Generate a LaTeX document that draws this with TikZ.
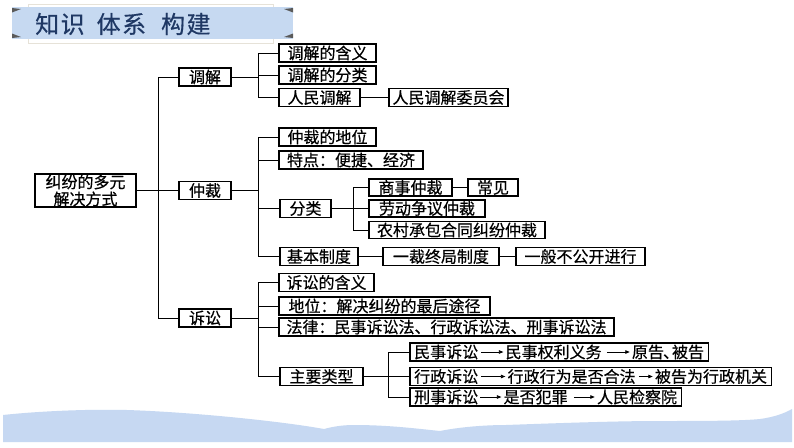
\documentclass[tikz,border=0pt]{standalone}
\usepackage{fontspec}
\setmainfont{Noto Sans CJK SC}[FakeBold=0.5]
\newfontfamily\titlefont{Noto Sans CJK SC}[LetterSpace=6,FakeBold=0.4]
\usetikzlibrary{arrows.meta,fit}
\definecolor{bannerblue}{HTML}{C6D9F1}
\definecolor{titlenavy}{HTML}{1F3864}
\definecolor{bandblue}{HTML}{C6D8F2}
\definecolor{wedgegray}{HTML}{5A5A5A}
\definecolor{framegray}{HTML}{E6E2D8}
\begin{document}
\begin{tikzpicture}[x=1pt,y=-1pt,
  box/.style={draw, line width=1.2pt, inner sep=0pt, minimum height=18pt, font=\fontsize{16}{17}\selectfont},
  txt/.style={inner sep=0pt, font=\fontsize{16}{17}\selectfont},
  rowbox/.style={draw, line width=1.2pt, inner xsep=4pt, inner ysep=0pt, minimum height=18pt},
  conn/.style={line width=0.9pt},
  arr/.style={line width=0.8pt, -{Triangle[length=4.5pt,width=3.5pt]}}]
\useasboundingbox (0,0) rectangle (794,447);
\fill[white] (0,0) rectangle (794,447);
% title banner
\draw[framegray, line width=0.6pt] (28,4) rectangle (273,43);
\fill[bannerblue] (12,7) rectangle (293,39);
\fill[wedgegray] (12,8) -- (21,9) -- (12,12.5) -- cycle;
\fill[wedgegray] (293,8) -- (284,9) -- (293,12.5) -- cycle;
\fill[wedgegray] (12,38) -- (21,37) -- (12,33.5) -- cycle;
\fill[wedgegray] (293,38) -- (284,37) -- (293,33.5) -- cycle;
\node[anchor=west, text=titlenavy, font=\titlefont\fontsize{24}{26}\selectfont, inner sep=0pt] (title) at (35,24) {知识\hspace{12pt}体系\hspace{15pt}构建};
% bottom band
\fill[bandblue] (3,442) -- (3,415) .. controls (40,411) and (90,409) .. (127,410)
  .. controls (190,412) and (280,421) .. (324,429)
  .. controls (335,426) and (345,425) .. (354,425)
  .. controls (390,425) and (420,429) .. (440,431)
  .. controls (460,427) and (485,425) .. (506,425)
  .. controls (560,423) and (620,421) .. (658,421)
  .. controls (700,421) and (740,421) .. (760,419)
  .. controls (775,417) and (785,413) .. (792,409) -- (792,442) -- cycle;
% nodes
\node[box, minimum width=101pt, minimum height=33pt, align=center] (root) at (85.5,190.5) {纠纷的多元\\解决方式};
\node[box, minimum width=52pt] (tiaojie) at (205,77) {调解};
\node[box, minimum width=52pt] (zhongcai) at (205,190.5) {仲裁};
\node[box, minimum width=52pt] (susong) at (205,318) {诉讼};
% tiaojie children
\node[box, minimum width=97pt] (tj1) at (327.5,53) {调解的含义};
\node[box, minimum width=97pt] (tj2) at (327.5,75) {调解的分类};
\node[box, minimum width=81pt] (tj3) at (319.5,97.5) {人民调解};
\node[box, minimum width=119pt] (tj4) at (448.5,97.5) {人民调解委员会};
% zhongcai children
\node[box, minimum width=97pt] (zc1) at (327.5,137) {仲裁的地位};
\node[box, minimum width=144pt] (zc2) at (351,160) {特点：便捷、经济};
\node[box, minimum width=51pt] (zc3) at (305.5,208.5) {分类};
\node[box, minimum width=78pt] (zc4) at (319,256.5) {基本制度};
\node[box, minimum width=116pt] (zc5) at (441,256.5) {一裁终局制度};
\node[box, minimum width=129pt] (zc6) at (580.5,256.5) {一般不公开进行};
\node[box, minimum width=83pt, minimum height=17pt] (fl1) at (410.5,187.5) {商事仲裁};
\node[box, minimum width=50pt, minimum height=17pt] (fl2) at (493,187.5) {常见};
\node[box, minimum width=116pt, minimum height=17pt] (fl3) at (427,208.5) {劳动争议仲裁};
\node[box, minimum width=176pt, minimum height=17pt] (fl4) at (457,230) {农村承包合同纠纷仲裁};
% susong children
\node[box, minimum width=95pt] (ss1) at (326.5,282.5) {诉讼的含义};
\node[box, minimum width=211pt] (ss2) at (384.5,306) {地位：解决纠纷的最后途径};
\node[box, minimum width=335pt] (ss3) at (446.5,327) {法律：民事诉讼法、行政诉讼法、刑事诉讼法};
\node[box, minimum width=83pt] (ss4) at (321.5,376.5) {主要类型};
% rows of main types
\node[txt, anchor=west] (r1a) at (414,352) {民事诉讼};
\node[txt, anchor=west] (r1b) at ([xshift=27pt]r1a.east) {民事权利义务};
\node[txt, anchor=west] (r1c) at ([xshift=30pt]r1b.east) {原告\kern-1pt、\kern-7pt被告};
\node[txt, anchor=west] (r2a) at (414,376.5) {行政诉讼};
\node[txt, anchor=west] (r2b) at ([xshift=29pt]r2a.east) {行政行为是否合法};
\node[txt, anchor=west] (r2c) at ([xshift=19pt]r2b.east) {被告为行政机关};
\node[txt, anchor=west] (r3a) at (414,397) {刑事诉讼};
\node[txt, anchor=west] (r3b) at ([xshift=25pt]r3a.east) {是否犯罪};
\node[txt, anchor=west] (r3c) at ([xshift=29pt]r3b.east) {人民检察院};
\node[rowbox, fit=(r1a)(r1c)] (r1) {};
\node[rowbox, fit=(r2a)(r2c)] (r2) {};
\node[rowbox, fit=(r3a)(r3c)] (r3) {};
\draw[arr] ([xshift=3pt]r1a.east) -- ([xshift=-2pt]r1b.west);
\draw[arr] ([xshift=5pt]r1b.east) -- ([xshift=-2pt]r1c.west);
\draw[arr] ([xshift=3pt]r2a.east) -- ([xshift=-2pt]r2b.west);
\draw[arr] ([xshift=3pt]r2b.east) -- ([xshift=-2pt]r2c.west);
\draw[arr] ([xshift=2pt]r3a.east) -- ([xshift=-2pt]r3b.west);
\draw[arr] ([xshift=6pt]r3b.east) -- ([xshift=-2pt]r3c.west);
% connectors
\coordinate (t1) at (158,0);
\coordinate (b2) at (258,0);
\coordinate (b3) at (353,0);
\coordinate (b4) at (388,0);
\draw[conn] (root.east) -- (zhongcai.west);
\draw[conn] (tiaojie.west) -| (t1 |- susong.west) -- (susong.west);
\draw[conn] (tiaojie.east) -- (tiaojie.east -| b2);
\draw[conn] (tj1.west) -| (b2 |- tj3.west) -- (tj3.west);
\draw[conn] (tj2.west) -- (tj2.west -| b2);
\draw[conn] (tj3.east) -- (tj4.west);
\draw[conn] (zhongcai.east) -- (zhongcai.east -| b2);
\draw[conn] (zc1.west) -| (b2 |- zc4.west) -- (zc4.west);
\draw[conn] (zc2.west) -- (zc2.west -| b2);
\draw[conn] (zc3.west) -- (zc3.west -| b2);
\draw[conn] (zc4.east) -- (zc5.west);
\draw[conn] (zc5.east) -- (zc6.west);
\draw[conn] (zc3.east) -- (fl3.west);
\draw[conn] (fl1.west) -| (b3 |- fl4.west) -- (fl4.west);
\draw[conn] (fl1.east) -- (fl2.west);
\draw[conn] (susong.east) -- (susong.east -| b2);
\draw[conn] (ss1.west) -| (b2 |- ss4.west) -- (ss4.west);
\draw[conn] (ss2.west) -- (ss2.west -| b2);
\draw[conn] (ss3.west) -- (ss3.west -| b2);
\draw[conn] (ss4.east) -- (r2.west);
\draw[conn] (r1.west) -| (b4 |- r3.west) -- (r3.west);
\end{tikzpicture}
\end{document}
